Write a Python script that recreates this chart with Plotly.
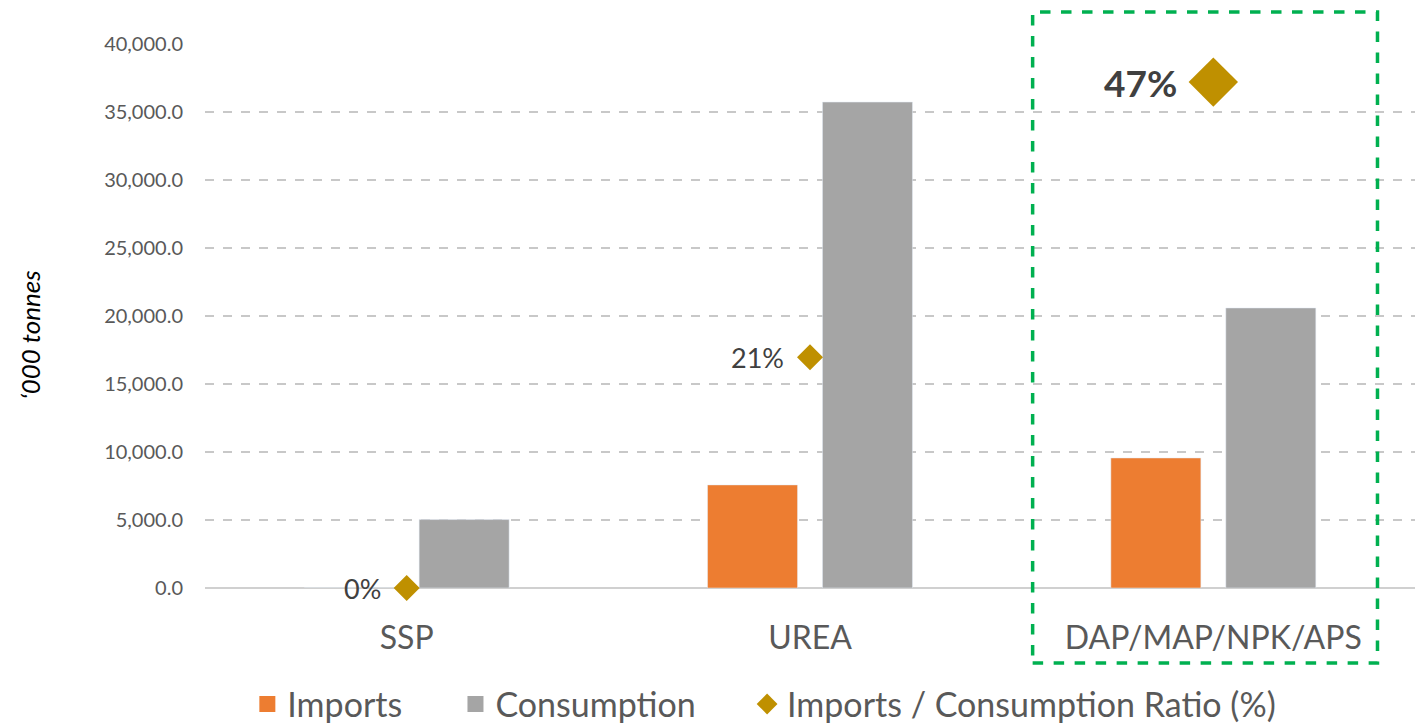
import plotly.graph_objects as go

categories = ["SSP", "UREA", "DAP/MAP/NPK/APS"]
imports = [0.0, 7580.0, 9560.0]
consumption = [5030.0, 35730.0, 20590.0]
ratio = [0.0, 0.212, 0.465]
ratio_labels = ["0%", "21%", "<b>47%</b>"]
y_ticks = [0, 5000, 10000, 15000, 20000, 25000, 30000, 35000, 40000]

FONT = "Lato, 'Open Sans', sans-serif"
ORANGE, GRAY, GOLD = "#ED7D31", "#A5A5A5", "#BF9000"

fig = go.Figure()
fig.add_trace(go.Bar(x=categories, y=imports, name="Imports", marker_color=ORANGE,
                     showlegend=False))
fig.add_trace(go.Bar(x=categories, y=consumption, name="Consumption", marker_color=GRAY,
                     showlegend=False))
fig.add_trace(go.Scatter(
    x=categories, y=ratio, name="Imports / Consumption Ratio (%)", yaxis="y2",
    mode="markers", showlegend=False, cliponaxis=False,
    marker=dict(symbol="diamond", color=GOLD, size=[20, 20, 38], opacity=1,
                line=dict(width=0)),
))

# legend proxies (one legend each so they can be placed like the original)
fig.add_trace(go.Scatter(x=[None], y=[None], mode="markers", name="Imports",
                         marker=dict(symbol="square", color=ORANGE, size=16), legend="legend"))
fig.add_trace(go.Scatter(x=[None], y=[None], mode="markers", name="Consumption",
                         marker=dict(symbol="square", color=GRAY, size=16), legend="legend2"))
fig.add_trace(go.Scatter(x=[None], y=[None], mode="markers", name="Imports / Consumption Ratio (%)",
                         marker=dict(symbol="diamond", color=GOLD, size=16), legend="legend3"))

label_sizes = [27, 27, 37]
label_shift = [-24, -24, -34]
annotations = []
for c, r, t, s, sh in zip(categories, ratio, ratio_labels, label_sizes, label_shift):
    annotations.append(dict(x=c, y=r, xref="x", yref="y2", text=t, showarrow=False,
                            xanchor="right", yanchor="middle", xshift=sh,
                            font=dict(size=s, color="#404040", family=FONT)))
annotations.append(dict(x=-0.145, y=0.465, xref="paper", yref="paper",
                        text="<i>‘000 tonnes</i>", textangle=-90, showarrow=False,
                        xanchor="center", yanchor="middle",
                        font=dict(size=26, color="#000000", family=FONT)))

leg_common = dict(orientation="h", xanchor="left", yanchor="middle", y=-0.214,
                  font=dict(size=34, color="#595959", family=FONT),
                  itemsizing="trace", itemwidth=30, bgcolor="rgba(0,0,0,0)")

fig.update_layout(
    width=1419, height=716,
    margin=dict(l=197, r=12, t=36, b=136, autoexpand=False),
    plot_bgcolor="white", paper_bgcolor="white",
    font=dict(family=FONT, color="#595959"),
    barmode="group", bargap=0.43, bargroupgap=0.217,
    showlegend=True,
    legend=dict(x=0.035, **leg_common),
    legend2=dict(x=0.207, **leg_common),
    legend3=dict(x=0.448, **leg_common),
    xaxis=dict(tickfont=dict(size=32, color="#595959"), showline=False,
               ticks="", showgrid=False, automargin=False, ticklabelstandoff=28),
    yaxis=dict(range=[0, 40000], tickvals=y_ticks,
               ticktext=[f"{v:,.1f}" for v in y_ticks],
               tickfont=dict(size=20, color="#595959"),
               showgrid=True, gridcolor="#C8C8C8", griddash="dash", gridwidth=1.5,
               zeroline=True, zerolinecolor="#D0D0D0", zerolinewidth=2,
               ticks="", ticklabelstandoff=21, automargin=False),
    yaxis2=dict(overlaying="y", range=[0, 0.5], visible=False),
    annotations=annotations,
    shapes=[dict(type="rect", xref="paper", yref="paper",
                 x0=0.684, x1=0.969, y0=-0.138, y1=1.059,
                 line=dict(color="#00B050", width=3.5, dash="dash"))],
)

fig.write_html("out.html")
